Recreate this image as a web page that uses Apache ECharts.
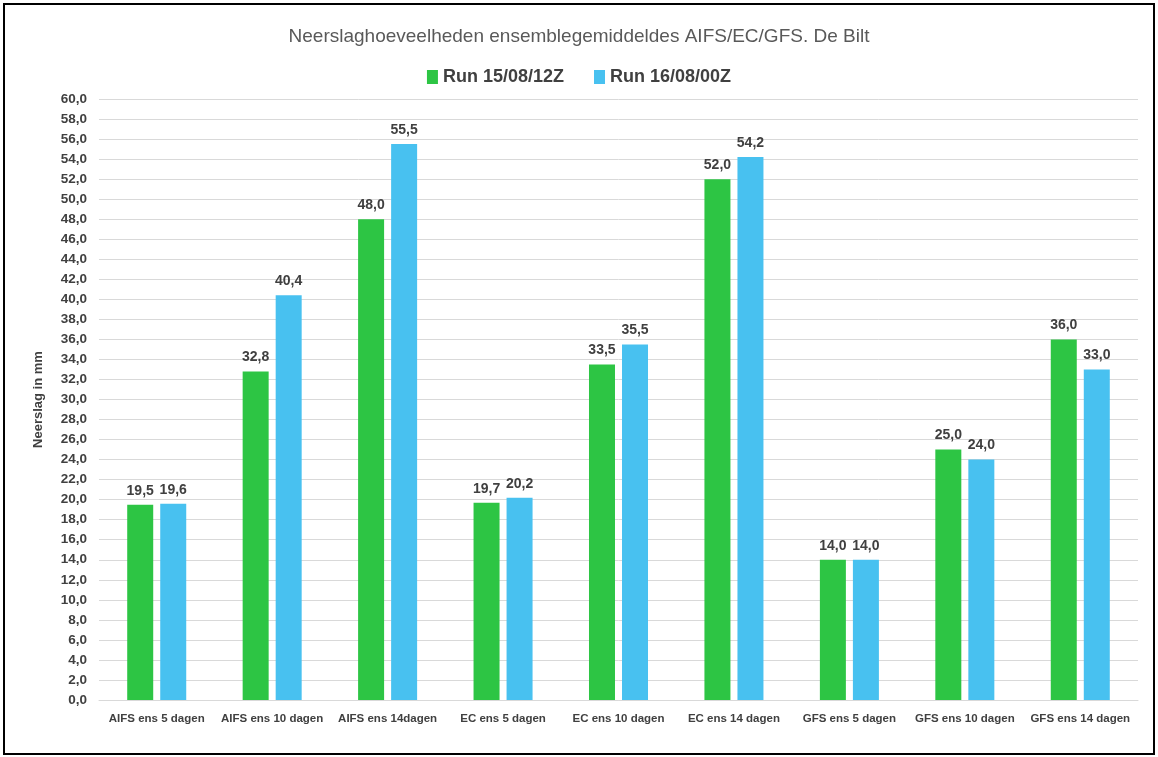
<!DOCTYPE html>
<html>
<head>
<meta charset="utf-8">
<script src="https://cdn.jsdelivr.net/npm/echarts@6/dist/echarts.min.js"></script>
<style>
  html, body { margin: 0; padding: 0; background: #fff; }
  #chart { position: absolute; left: 3px; top: 3px; width: 1148px; height: 748px; border: 2px solid #000; }
</style>
</head>
<body>
<div id="chart"></div>
<script>
const categories = ['AIFS ens 5 dagen', 'AIFS ens 10 dagen', 'AIFS ens 14dagen', 'EC ens 5 dagen',
  'EC ens 10 dagen', 'EC ens 14 dagen', 'GFS ens 5 dagen', 'GFS ens 10 dagen', 'GFS ens 14 dagen'];
const run1 = [19.5, 32.8, 48.0, 19.7, 33.5, 52.0, 14.0, 25.0, 36.0];
const run2 = [19.6, 40.4, 55.5, 20.2, 35.5, 54.2, 14.0, 24.0, 33.0];

const chart = echarts.init(document.getElementById('chart'));
const font = '"Liberation Sans Narrow", "Liberation Sans", sans-serif';
const fmt = v => v.toFixed(1).replace('.', ',');

const label = {
  show: true,
  position: 'top',
  distance: 7,
  color: '#404040',
  fontFamily: font,
  fontWeight: 'bold',
  fontSize: 14,
  formatter: p => fmt(p.value)
};

chart.setOption({
  backgroundColor: '#fff',
  animation: false,
  color: ['#2DC544', '#48C1F0'],
  title: {
    text: 'Neerslaghoeveelheden ensemblegemiddeldes AIFS/EC/GFS. De Bilt',
    left: 'center',
    top: 17,
    textStyle: { color: '#595959', fontFamily: font, fontWeight: 'normal', fontSize: 19 }
  },
  legend: {
    top: 58,
    left: 'center',
    itemWidth: 11,
    itemHeight: 14,
    itemGap: 30,
    icon: 'rect',
    textStyle: { color: '#404040', fontFamily: font, fontWeight: 'bold', fontSize: 18 },
    data: ['Run 15/08/12Z', 'Run 16/08/00Z']
  },
  grid: { left: 94, right: 15, top: 94, bottom: 53 },
  xAxis: {
    type: 'category',
    data: categories,
    axisTick: { show: false },
    axisLine: { lineStyle: { color: '#d9d9d9' } },
    axisLabel: { interval: 0, color: '#404040', fontFamily: font, fontWeight: 'bold', fontSize: 11.5, margin: 13 }
  },
  yAxis: {
    type: 'value',
    min: 0,
    max: 60,
    interval: 2,
    name: 'Neerslag in mm',
    nameLocation: 'middle',
    nameGap: 54,
    nameTextStyle: { color: '#404040', fontFamily: font, fontWeight: 'bold', fontSize: 13 },
    axisLabel: { color: '#404040', fontFamily: font, fontWeight: 'bold', fontSize: 13.5, margin: 12, formatter: fmt },
    splitLine: { lineStyle: { color: '#d9d9d9' } }
  },
  series: [
    { name: 'Run 15/08/12Z', type: 'bar', data: run1, barWidth: 26, barGap: '27%', label: label },
    { name: 'Run 16/08/00Z', type: 'bar', data: run2, barWidth: 26, barGap: '27%', label: label }
  ]
});
</script>
</body>
</html>
